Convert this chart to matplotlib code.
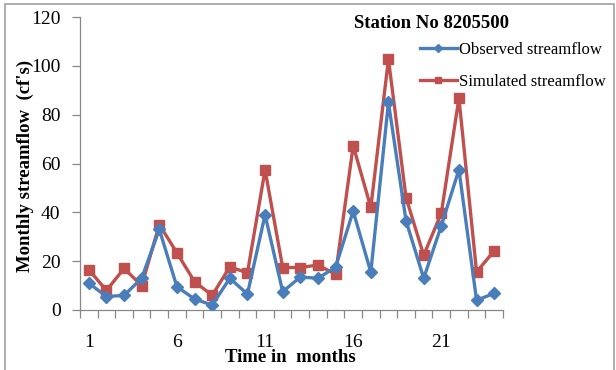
import numpy as np
import matplotlib
matplotlib.use("Agg")
import matplotlib.pyplot as plt
from matplotlib.patches import Rectangle

# Monthly streamflow, station 8205500
months = np.arange(1, 25)
observed = [11, 5.5, 6, 13, 33, 9.5, 4.5, 2, 13, 6.5, 39, 7.5,
            13.5, 13, 17.5, 40.5, 15.5, 85, 36.5, 13, 34.5, 57.5, 4, 6.8]
simulated = [16.5, 8, 17, 10, 35, 23.4, 11.6, 6, 17.7, 15.2, 57.4, 17.4,
             17.4, 18.4, 14.7, 67.3, 42, 102.7, 46, 22.4, 39.7, 86.8, 15.6, 24.2]
xtick_labels = [1, 6, 11, 16, 21]

plt.rcParams['font.family'] = ['Liberation Serif', 'DejaVu Serif']

W, H = 616, 370
fig = plt.figure(figsize=(W/100, H/100), dpi=100)
ax = fig.add_axes([80/W, (H-310)/H, 423/W, 293/H])

blue = '#4a7ebb'
red = '#c0504d'
ax.plot(months, observed, color=blue, lw=2.4, marker='D', ms=6,
        label='Observed streamflow', zorder=3)
ax.plot(months, simulated, color=red, lw=2.4, marker='s', ms=6.5,
        label='Simulated streamflow', zorder=2)

ax.set_xlim(0.5, 24.5)
ax.set_ylim(0, 120)
ax.set_yticks(range(0, 121, 20))
ax.set_xticks(xtick_labels)
ax.set_xticks(np.arange(0.5, 25, 1), minor=True)
ax.tick_params(axis='x', which='major', length=0, pad=17, labelsize=14)
ax.tick_params(axis='x', which='minor', length=6, width=0.9, color='#888888', direction='out')
ax.tick_params(axis='y', length=6, width=0.9, color='#888888', pad=8, labelsize=14)

for s in ['top', 'right']:
    ax.spines[s].set_visible(False)
for s in ['left', 'bottom']:
    ax.spines[s].set_color('#888888')
    ax.spines[s].set_linewidth(0.9)

fig.text(25/W, 1 - 166/H, "Monthly streamflow  (cf's)", rotation=90,
         ha='center', va='center', fontsize=13.5, fontweight='bold')
fig.text(290/W, 1 - 358/H, "Time in  months", ha='center', va='center',
         fontsize=13.5, fontweight='bold')
fig.text(432/W, 1 - 23/H, "Station No 8205500", ha='center', va='center',
         fontsize=13.5, fontweight='bold')

leg = ax.legend(loc='upper left', bbox_to_anchor=(420/W, 1 - 42/H),
                bbox_transform=fig.transFigure, frameon=False, fontsize=12,
                handlelength=2.2, handletextpad=0.15, labelspacing=0.95,
                borderaxespad=0, borderpad=0, markerscale=0.7)

fig.patches.append(Rectangle((5/W, -0.1), 609/W, 1 - 4/H + 0.1, transform=fig.transFigure,
                             fill=False, edgecolor='#a0a0a0', lw=1.2))

fig.savefig('out.png', dpi=100)
